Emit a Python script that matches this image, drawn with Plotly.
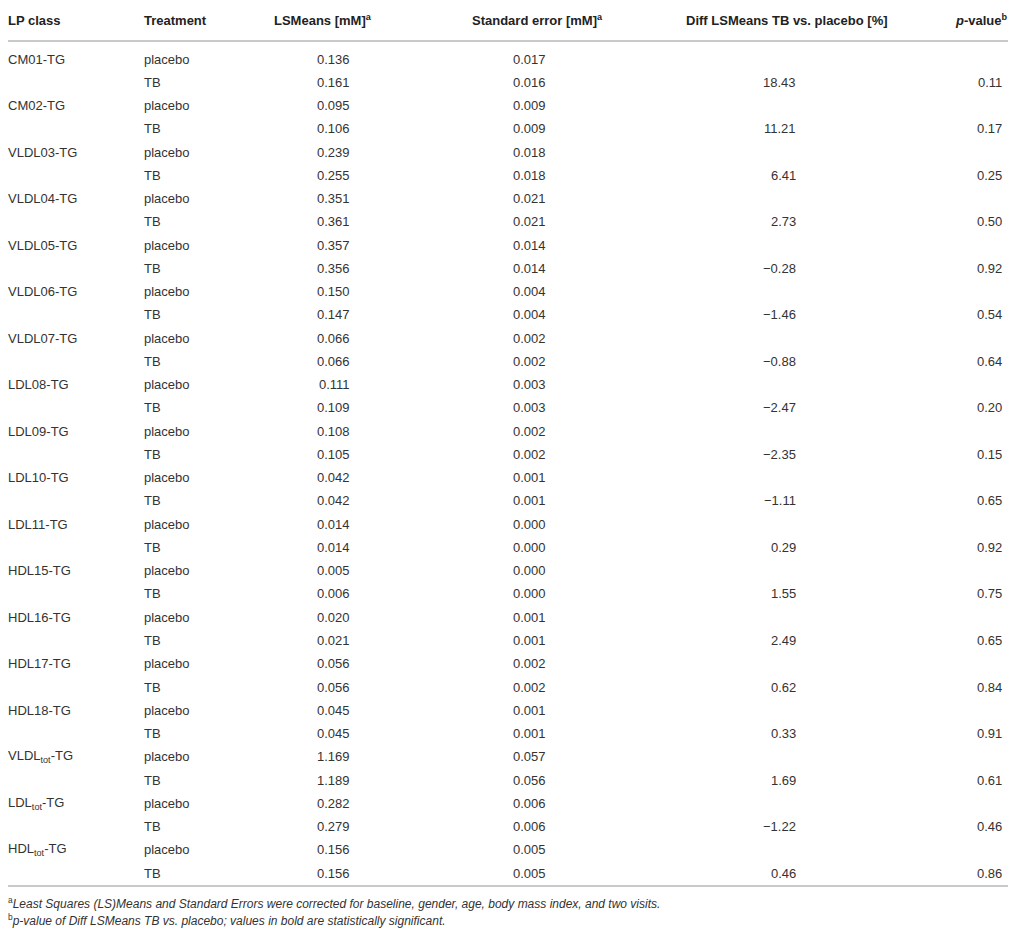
import plotly.graph_objects as go

# ---------------- data ----------------
lp_classes = ["CM01-TG", "CM02-TG", "VLDL03-TG", "VLDL04-TG", "VLDL05-TG", "VLDL06-TG",
              "VLDL07-TG", "LDL08-TG", "LDL09-TG", "LDL10-TG", "LDL11-TG", "HDL15-TG",
              "HDL16-TG", "HDL17-TG", "HDL18-TG", "VLDL<sub>tot</sub>-TG",
              "LDL<sub>tot</sub>-TG", "HDL<sub>tot</sub>-TG"]
treatments = ["placebo", "TB"]
placebo_lsmeans = [0.136, 0.095, 0.239, 0.351, 0.357, 0.150, 0.066, 0.111, 0.108, 0.042,
                   0.014, 0.005, 0.020, 0.056, 0.045, 1.169, 0.282, 0.156]
tb_lsmeans = [0.161, 0.106, 0.255, 0.361, 0.356, 0.147, 0.066, 0.109, 0.105, 0.042,
              0.014, 0.006, 0.021, 0.056, 0.045, 1.189, 0.279, 0.156]
placebo_se = [0.017, 0.009, 0.018, 0.021, 0.014, 0.004, 0.002, 0.003, 0.002, 0.001,
              0.000, 0.000, 0.001, 0.002, 0.001, 0.057, 0.006, 0.005]
tb_se = [0.016, 0.009, 0.018, 0.021, 0.014, 0.004, 0.002, 0.003, 0.002, 0.001,
         0.000, 0.000, 0.001, 0.002, 0.001, 0.056, 0.006, 0.005]
diff_pct = [18.43, 11.21, 6.41, 2.73, -0.28, -1.46, -0.88, -2.47, -2.35, -1.11,
            0.29, 1.55, 2.49, 0.62, 0.33, 1.69, -1.22, 0.46]
p_values = [0.11, 0.17, 0.25, 0.50, 0.92, 0.54, 0.64, 0.20, 0.15, 0.65,
            0.92, 0.75, 0.65, 0.84, 0.91, 0.61, 0.46, 0.86]

headers = ["LP class", "Treatment", "LSMeans [mM]<sup>a</sup>",
           "Standard error [mM]<sup>a</sup>", "Diff LSMeans TB vs. placebo [%]",
           "<i>p</i>-value<sup>b</sup>"]
footnotes = [
    "<sup>a</sup><i>Least Squares (LS)Means and Standard Errors were corrected for baseline, gender, age, body mass index, and two visits.</i>",
    "<sup>b</sup><i>p-value of Diff LSMeans TB vs. placebo; values in bold are statistically significant.</i>",
]

# ---------------- layout constants ----------------
OFF = 8                                  # page body margin of the browser
W, H = 1016 - 2 * OFF, 942 - 2 * OFF
FONT = "Liberation Sans, Arial, Helvetica, sans-serif"
TXT = "#333333"
LINE = "#c9c9c9"
ROW0_PX, ROW_PX = 59.0 - OFF, 23.26      # first body row centre, row pitch (pixels)
PAD = 2                                  # annotation inner padding

# header anchors (x pixel in the reference, anchor) and body anchors
head_pos = [(4, "left"), (144, "left"), (372, "right"), (603, "right"), (888, "right"), (1008, "right")]
body_pos = [(4, "left"), (144, "left"), (350, "right"), (546, "right"), (796, "right"), (1002, "right")]

def xp(px, anc):
    if anc == "left":
        return (max(px - OFF, 0) - PAD) / W
    return (px - OFF + PAD) / W

def fmt(v, d):
    s = f"{v:.{d}f}"
    return s.replace("-", "\u2212")

rows = []
for i, cls in enumerate(lp_classes):
    rows.append([cls, treatments[0], fmt(placebo_lsmeans[i], 3), fmt(placebo_se[i], 3), "", ""])
    rows.append(["", treatments[1], fmt(tb_lsmeans[i], 3), fmt(tb_se[i], 3),
                 fmt(diff_pct[i], 2), fmt(p_values[i], 2)])

y_top = -ROW0_PX / ROW_PX
y_bot = (H - ROW0_PX) / ROW_PX
def px_to_row(px):
    return (px - OFF - ROW0_PX) / ROW_PX

fig = go.Figure()
fig.add_trace(go.Scatter(x=[0], y=[0], mode="markers", marker=dict(opacity=0),
                         hoverinfo="skip", showlegend=False))

ann = []
for (px, anc), h in zip(head_pos, headers):
    ann.append(dict(x=xp(px, anc), xref="paper", y=px_to_row(20), yref="y",
                    text=f"<b>{h}</b>", xanchor=anc, yanchor="middle", showarrow=False,
                    font=dict(family=FONT, size=13, color="#222222")))
for r, row in enumerate(rows):
    for (px, anc), val in zip(body_pos, row):
        if val == "":
            continue
        ann.append(dict(x=xp(px, anc), xref="paper", y=r, yref="y", text=val,
                        xanchor=anc, yanchor="middle", showarrow=False,
                        font=dict(family=FONT, size=13, color=TXT)))
for k, fn in enumerate(footnotes):
    ann.append(dict(x=xp(4, "left"), xref="paper", y=px_to_row(903 + 17 * k), yref="y", text=fn,
                    xanchor="left", yanchor="middle", showarrow=False,
                    font=dict(family=FONT, size=12, color=TXT)))

shapes = []
for px in (3, 41, 886):
    shapes.append(dict(type="line", xref="paper", x0=0, x1=1, yref="y",
                       y0=px_to_row(px), y1=px_to_row(px),
                       line=dict(color=LINE, width=2)))

fig.update_layout(
    width=W, height=H,
    margin=dict(l=0, r=0, t=0, b=0),
    paper_bgcolor="white", plot_bgcolor="white",
    xaxis=dict(visible=False, range=[0, 1], fixedrange=True),
    yaxis=dict(visible=False, range=[y_bot, y_top], fixedrange=True),
    annotations=ann, shapes=shapes, showlegend=False,
)

fig.write_html("out.html")
